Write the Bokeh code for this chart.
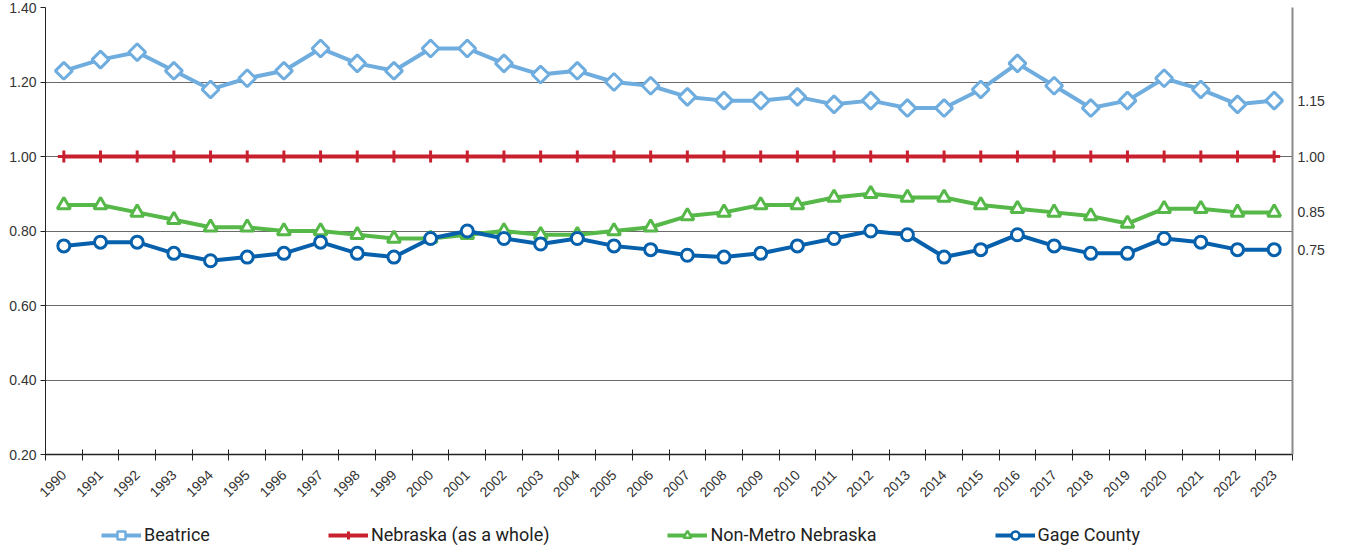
import math
from bokeh.plotting import figure
from bokeh.layouts import column
from bokeh.models import (Legend, LegendItem, LinearAxis, FixedTicker, Range1d,
                          CustomJSTickFormatter)
from bokeh.embed import file_html
from bokeh.resources import INLINE

years = [1990, 1991, 1992, 1993, 1994, 1995, 1996, 1997, 1998, 1999,
         2000, 2001, 2002, 2003, 2004, 2005, 2006, 2007, 2008, 2009,
         2010, 2011, 2012, 2013, 2014, 2015, 2016, 2017, 2018, 2019,
         2020, 2021, 2022, 2023]

beatrice = [1.23, 1.26, 1.28, 1.23, 1.18, 1.21, 1.23, 1.29, 1.25, 1.23,
            1.29, 1.29, 1.25, 1.22, 1.23, 1.20, 1.19, 1.16, 1.15, 1.15,
            1.16, 1.14, 1.15, 1.13, 1.13, 1.18, 1.25, 1.19, 1.13, 1.15,
            1.21, 1.18, 1.14, 1.15]
nebraska = [1.00] * 34
non_metro = [0.87, 0.87, 0.85, 0.83, 0.81, 0.81, 0.80, 0.80, 0.79, 0.78,
             0.78, 0.79, 0.80, 0.79, 0.79, 0.80, 0.81, 0.84, 0.85, 0.87,
             0.87, 0.89, 0.90, 0.89, 0.89, 0.87, 0.86, 0.85, 0.84, 0.82,
             0.86, 0.86, 0.85, 0.85]
gage = [0.76, 0.77, 0.77, 0.74, 0.72, 0.73, 0.74, 0.77, 0.74, 0.73,
        0.78, 0.80, 0.78, 0.765, 0.78, 0.76, 0.75, 0.735, 0.73, 0.74,
        0.76, 0.78, 0.80, 0.79, 0.73, 0.75, 0.79, 0.76, 0.74, 0.74,
        0.78, 0.77, 0.75, 0.75]

series_names = ["Beatrice", "Nebraska (as a whole)", "Non-Metro Nebraska", "Gage County"]
colors = ["#6FADDF", "#C8202F", "#55B848", "#0660AC"]
left_ticks = [0.20, 0.40, 0.60, 0.80, 1.00, 1.20, 1.40]
right_ticks = [0.75, 0.85, 1.00, 1.15]

FONT = "Liberation Sans"

p = figure(width=1336, height=515, output_backend="svg", toolbar_location=None,
           x_range=Range1d(years[0] - 0.5, years[-1] + 0.5),
           y_range=Range1d(0.2, 1.4),
           min_border_left=45, min_border_right=44, min_border_top=7,
           min_border_bottom=61)
p.outline_line_color = None
p.background_fill_color = "white"
p.border_fill_color = "white"

# grid
p.xgrid.visible = False
p.ygrid.ticker = FixedTicker(ticks=left_ticks)
p.ygrid.grid_line_color = "#6a6a6a"
p.ygrid.grid_line_width = 1

# left axis
ya = p.yaxis[0]
ya.ticker = FixedTicker(ticks=left_ticks)
ya.formatter = CustomJSTickFormatter(code="return tick.toFixed(2);")
ya.axis_line_color = "#222222"
ya.major_tick_line_color = "#222222"
ya.major_tick_out = 5
ya.major_tick_in = 0
ya.minor_tick_line_color = None
ya.major_label_text_font = FONT
ya.major_label_text_font_size = "14px"
ya.major_label_text_color = "#333333"
ya.major_label_standoff = 4

# right axis
ra = LinearAxis(ticker=FixedTicker(ticks=right_ticks),
                formatter=CustomJSTickFormatter(code="return tick.toFixed(2);"))
ra.axis_line_color = "#8a8a8a"
ra.axis_line_width = 2
ra.major_tick_out = 0
ra.major_tick_in = 0
ra.minor_tick_line_color = None
ra.major_label_text_font = FONT
ra.major_label_text_font_size = "14px"
ra.major_label_text_color = "#333333"
ra.major_label_standoff = 5
p.add_layout(ra, "right")

# bottom axis
xa = p.xaxis[0]
xa.ticker = FixedTicker(ticks=years,
                        minor_ticks=[y - 0.5 for y in years] + [years[-1] + 0.5])
xa.formatter = CustomJSTickFormatter(code="return String(tick);")
xa.major_label_orientation = math.pi / 4
xa.major_tick_out = 0
xa.major_tick_in = 0
xa.minor_tick_out = 6
xa.minor_tick_in = 5
xa.minor_tick_line_color = "#222222"
xa.axis_line_color = "#222222"
xa.axis_line_width = 1.5
xa.major_label_text_font = FONT
xa.major_label_text_font_size = "14px"
xa.major_label_text_color = "#333333"
xa.major_label_standoff = 12

data = [beatrice, nebraska, non_metro, gage]
markers = ["square", "cross", "triangle", "circle"]
msize = [12, 12, 13, 12]
angles = [math.pi / 4, 0, 0, 0]

for vals, col, mk, ms, ang in zip(data, colors, markers, msize, angles):
    p.line(years, vals, line_color=col, line_width=4)
    if mk == "cross":
        p.scatter(years, vals, marker=mk, size=ms, line_color=col, line_width=3)
    else:
        p.scatter(years, vals, marker=mk, size=ms, angle=ang, line_color=col,
                  line_width=3, fill_color="white")

# legend strip: a small figure of its own; its series lie outside its view,
# only their legend samples show
lg = figure(width=1336, height=33, output_backend="svg", toolbar_location=None,
            x_axis_type=None, y_axis_type=None,
            x_range=Range1d(years[0] - 0.5, years[-1] + 0.5),
            y_range=Range1d(10, 11),
            min_border_left=0, min_border_right=0, min_border_top=0,
            min_border_bottom=0)
lg.outline_line_color = None
lg.xgrid.visible = False
lg.ygrid.visible = False

items = []
for name, vals, col, mk, ang in zip(series_names, data, colors, markers, angles):
    ln = lg.line(years, vals, line_color=col, line_width=4)
    if mk == "cross":
        sc = lg.scatter(years, vals, marker=mk, size=10, line_color=col, line_width=3)
    else:
        sc = lg.scatter(years, vals, marker=mk, size=10, angle=ang, line_color=col,
                        line_width=2.5, fill_color="white")
    items.append(LegendItem(label=name, renderers=[ln, sc]))

legend = Legend(items=items, orientation="horizontal", location=(56, 3))
legend.label_text_font = "Roboto"
legend.label_text_font_size = "18px"
legend.label_text_color = "#222222"
legend.glyph_width = 40
legend.glyph_height = 20
legend.label_standoff = 3
legend.spacing = 118
legend.border_line_color = None
legend.background_fill_alpha = 0
legend.padding = 0
legend.margin = 0
lg.add_layout(legend, "center")

layout = column(p, lg, spacing=0)
open("out.html", "w").write(file_html(layout, INLINE))
